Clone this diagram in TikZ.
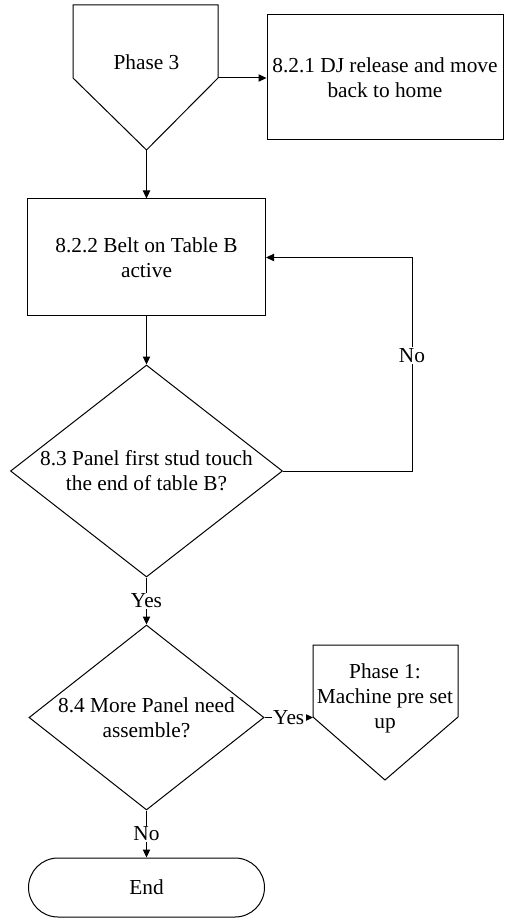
\documentclass[tikz,border=0pt]{standalone}
\usepackage{fontspec}
\setmainfont{Liberation Serif}
\usetikzlibrary{arrows.meta,positioning,shapes.geometric,shapes.misc}
\tikzset{
  every picture/.style={font=\fontsize{16}{18.75}\selectfont},
  flow line/.style={draw=black, line width=0.75pt},
  flow arrow/.style={flow line, -{Triangle[length=6pt,width=5.5pt]}},
  flow box/.style={draw=black, line width=0.75pt, align=center, inner sep=0pt},
  flow decision/.style={diamond, draw=black, line width=0.75pt, align=center,
    inner sep=0pt},
  flow end/.style={rounded rectangle, draw=black, line width=0.75pt,
    inner sep=0pt},
  flow label/.style={fill=white, inner sep=1pt},
  offpage text/.style={align=center, inner sep=0pt}
}

\begin{document}
\begin{tikzpicture}[x=0.75pt,y=-0.75pt]
  \useasboundingbox (0,0) rectangle (507,919);

  % off-page reference at the top
  \draw[flow line] (73,5) -- (218,5) -- (218,78) -- (146.5,150) -- (73,78) -- cycle;
  \node[offpage text] (ph3) at (146.5,62) {Phase 3};
  \coordinate (ph3 tip) at (146.5,150);
  \coordinate (ph3 east) at (218,78);

  \node[flow box, minimum width=177pt, minimum height=93.75pt] (dj) at (385,77.5)
    {8.2.1 DJ release and move\\back to home};
  \node[flow box, minimum width=178.5pt, minimum height=87.75pt] (belt) at (146.5,257.5)
    {8.2.2 Belt on Table B\\active};

  % decisions
  \node[flow decision, aspect=1.28, minimum width=204pt, minimum height=159pt]
    (q83) at (146.5,471) {8.3 Panel first stud touch\\the end of table B?};
  \node[flow decision, aspect=1.27, minimum width=176.25pt, minimum height=138.75pt]
    (q84) at (146.5,717.5) {8.4 More Panel need\\assemble?};

  % off-page reference back to phase 1
  \draw[flow line] (313,645) -- (458,645) -- (458,717) -- (385,780) -- (313,717) -- cycle;
  \node[offpage text] (ph1) at (385,698) {Phase 1:\\Machine pre set\\up};
  \coordinate (ph1 west) at (313,717.5);

  \node[flow end, minimum width=177pt, minimum height=44.25pt] (end) at (146.5,887.5) {End};

  % connectors
  \draw[flow arrow] (ph3 east) -- (dj.west |- ph3 east);
  \draw[flow arrow] (ph3 tip) -- (belt.north);
  \draw[flow arrow] (belt.south) -- (q83.north);
  \coordinate (loop) at (412,471);
  \draw[flow arrow] (q83.east) -- (loop) |- node[flow label, pos=0.27] {No} (belt.east);
  \draw[flow arrow] (q83.south) -- node[flow label] {Yes} (q84.north);
  \draw[flow arrow] (q84.east) -- node[flow label] {Yes} (ph1 west);
  \draw[flow arrow] (q84.south) -- node[flow label] {No} (end.north);
\end{tikzpicture}
\end{document}
